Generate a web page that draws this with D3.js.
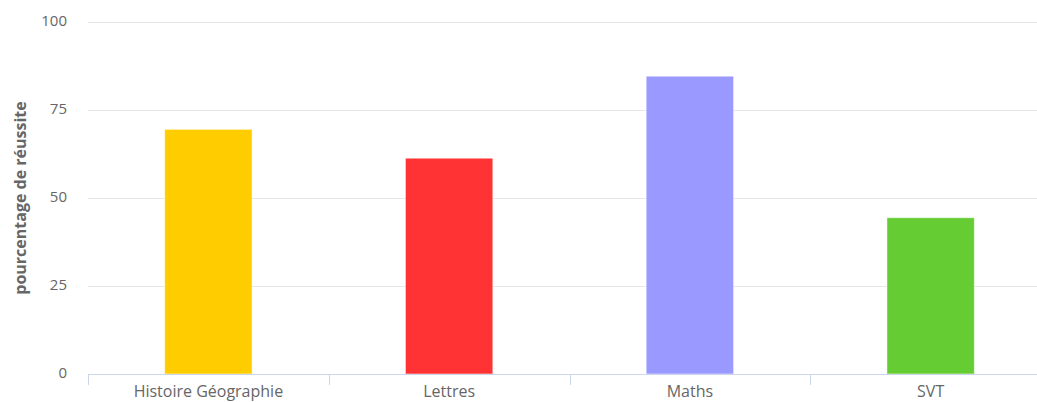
<!DOCTYPE html>
<html><head><meta charset="utf-8">
<script src="https://cdn.jsdelivr.net/npm/d3@7"></script>
<style>body{margin:0;background:#fff}svg{display:block;font-family:"Open Sans",sans-serif}</style>
</head><body>
<svg id="c" width="1037" height="402"></svg>
<script>
const categories = ["Histoire Géographie", "Lettres", "Maths", "SVT"];
const values = [69.5, 61.3, 84.6, 44.4];
const colors = ["#FFCC00", "#FF3333", "#9999FF", "#66CC33"];
const yTicks = [0, 25, 50, 75, 100];
const yTitle = "pourcentage de réussite";

(function () {
const svg = d3.select("#c");
const pLeft = 88, pRight = 1051, pTop = 22, pBottom = 374;
const x = d3.scaleBand().domain(categories).range([pLeft, pRight]).paddingInner(0).paddingOuter(0);
const y = d3.scaleLinear().domain([0, 100]).range([pBottom, pTop]);

// grid
svg.append("g").selectAll("line").data(yTicks.filter(d => d > 0)).join("line")
  .attr("x1", pLeft).attr("x2", 1037).attr("y1", d => Math.round(y(d)) + 0.5).attr("y2", d => Math.round(y(d)) + 0.5)
  .attr("stroke", "#e6e6e6").attr("stroke-width", 1);

// y labels
svg.append("g").selectAll("text").data(yTicks).join("text")
  .attr("x", 67).attr("y", d => y(d) + 4).attr("text-anchor", "end")
  .attr("fill", "#666").attr("font-size", 15).text(d => d);

// y title
svg.append("text").attr("transform", `translate(26,${(pTop + pBottom) / 2}) rotate(-90)`)
  .attr("text-anchor", "middle").attr("fill", "#666").attr("font-size", 16).attr("font-weight", "bold")
  .text(yTitle);

// bars
const bw = x.bandwidth() * 0.363;
svg.append("g").selectAll("rect").data(categories).join("rect")
  .attr("x", d => x(d) + (x.bandwidth() - bw) / 2)
  .attr("width", bw)
  .attr("y", (d, i) => y(values[i]))
  .attr("height", (d, i) => y(0) - y(values[i]))
  .attr("fill", (d, i) => colors[i])
  .attr("stroke", "#fff").attr("stroke-width", 1).attr("stroke-opacity", 0.5);

// x axis
svg.append("line").attr("x1", pLeft).attr("x2", 1037).attr("y1", pBottom + 0.5).attr("y2", pBottom + 0.5)
  .attr("stroke", "#ccd6eb").attr("stroke-width", 1);
const bounds = categories.map(d => x(d)).concat([pRight]);
svg.append("g").selectAll("line").data(bounds).join("line")
  .attr("x1", d => Math.round(d) + 0.5).attr("x2", d => Math.round(d) + 0.5)
  .attr("y1", pBottom).attr("y2", pBottom + 11)
  .attr("stroke", "#ccd6eb").attr("stroke-width", 1);
svg.append("g").selectAll("text").data(categories).join("text")
  .attr("x", d => x(d) + x.bandwidth() / 2).attr("y", 397)
  .attr("text-anchor", "middle").attr("fill", "#666").attr("font-size", 16).text(d => d);
})();
</script>
</body></html>
